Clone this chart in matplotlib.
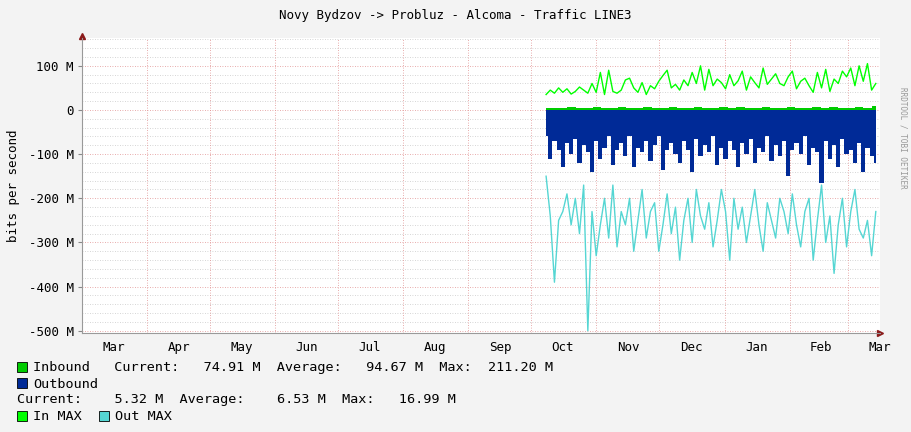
import numpy as np
import matplotlib
matplotlib.use("Agg")
import matplotlib.pyplot as plt

title = "Novy Bydzov -> Probluz - Alcoma - Traffic LINE3"
months = ["Mar","Apr","May","Jun","Jul","Aug","Sep","Oct","Nov","Dec","Jan","Feb","Mar"]
month_starts = [0,31,61,92,122,153,184,214,245,275,306,337,365]
start_day, end_day = 221, 378

in_max = [35,45,38,50,40,48,36,42,52,45,38,60,40,85,35,90,42,38,45,68,72,50,40,62,35,55,48,65,78,90,50,58,45,68,55,85,60,100,45,92,55,70,62,48,80,55,66,88,45,75,62,50,95,58,70,82,60,55,75,88,48,65,72,55,40,85,50,92,42,70,60,88,75,95,55,100,65,105,45,60]
out_max = [-150,-240,-390,-250,-230,-190,-260,-200,-280,-170,-500,-230,-330,-260,-200,-290,-170,-310,-230,-260,-200,-320,-250,-180,-290,-230,-210,-320,-260,-190,-280,-220,-340,-250,-200,-300,-180,-240,-270,-210,-310,-250,-180,-230,-340,-200,-270,-220,-300,-240,-180,-260,-320,-210,-250,-290,-200,-230,-280,-190,-260,-310,-230,-200,-340,-250,-170,-300,-240,-370,-260,-200,-310,-230,-180,-270,-290,-250,-330,-230]
outbound = [-60,-110,-70,-90,-130,-75,-100,-65,-120,-80,-95,-140,-70,-110,-85,-60,-125,-90,-75,-105,-60,-130,-85,-95,-70,-115,-80,-60,-135,-90,-75,-100,-120,-70,-90,-140,-65,-105,-80,-95,-60,-125,-85,-110,-70,-90,-130,-75,-100,-65,-120,-85,-95,-60,-115,-80,-105,-70,-150,-90,-75,-100,-60,-125,-85,-95,-165,-70,-110,-80,-130,-65,-100,-90,-120,-75,-140,-85,-105,-120]
inbound = [4,5,5,6,4,5,6,5,4,6,5,5,7,5,4,6,5,5,6,4,5,6,5,7,4,5,6,5,5,6,4,5,7,5,6,5,4,6,5,8]

fig = plt.figure(figsize=(9.11,4.32), dpi=100, facecolor="#f3f3f3")
ax = fig.add_axes([82/911, 99/432, 798/911, 295/432])
ax.set_facecolor("white")
ax.set_xlim(0, 378)
ax.set_ylim(-505e6, 163e6)

x80 = np.linspace(start_day, end_day, len(outbound))
x40 = np.linspace(start_day, end_day, len(inbound))
ax.fill_between(x80, 0, np.array(outbound)*1e6, step="mid", color="#002a97", lw=0, zorder=3)
ax.fill_between(x40, 0, np.array(inbound)*1e6, step="mid", color="#00cc00", lw=0, zorder=3)
ax.plot(np.linspace(start_day, end_day, len(in_max)), np.array(in_max)*1e6, color="#00ff00", lw=1, zorder=4)
ax.plot(np.linspace(start_day, end_day, len(out_max)), np.array(out_max)*1e6, color="#55d6d3", lw=1, zorder=4)

mono = "DejaVu Sans Mono"
for y in np.arange(-500e6, 161e6, 20e6):
    major = abs(y % 100e6) < 1 or abs(y % 100e6 - 100e6) < 1
    ax.axhline(y, color="#e09090" if major else "#c8c8c8", lw=0.6, ls=(0,(1,2)), zorder=1)
for d in month_starts[1:]:
    ax.axvline(d, color="#e09090", lw=0.6, ls=(0,(1,2)), zorder=1)

yt = [100e6,0,-100e6,-200e6,-300e6,-400e6,-500e6]
ax.set_yticks(yt)
ax.set_yticklabels(["100 M","0","-100 M","-200 M","-300 M","-400 M","-500 M"], family=mono, fontsize=9)
mids = [s + 15 for s in month_starts]
ax.set_xticks(mids)
ax.set_xticklabels(months, family=mono, fontsize=9)
ax.tick_params(axis="x", length=0, pad=6)
ax.tick_params(axis="y", length=3, color="#888888", pad=3)
for s in ["top","right"]:
    ax.spines[s].set_visible(False)
ax.spines["left"].set_color("#999999")
ax.spines["bottom"].set_color("#999999")
ax.plot([0],[168e6], marker="^", color="#8b1a1a", ms=4, clip_on=False)
ax.plot([380],[-505e6], marker=">", color="#8b1a1a", ms=4, clip_on=False)
ax.set_ylabel("bits per second", family=mono, fontsize=9, labelpad=6)

fig.text(0.5, 1-16/432, title, ha="center", va="center", family=mono, fontsize=9)
fig.text(903/911, 0.5+0.18, "RRDTOOL / TOBI OETIKER", rotation=270, ha="center", va="center", family=mono, fontsize=5.5, color="#999999")

def box(px, py, c):
    fig.patches.append(plt.Rectangle((px/911, 1-(py+5)/432), 10/911, 10/432, transform=fig.transFigure, facecolor=c, edgecolor="black", lw=0.6))
def t(px, py, s):
    fig.text(px/911, 1-py/432, s, family=mono, fontsize=9.7, va="center")
box(17, 367, "#00cc00"); t(33, 368, "Inbound   Current:   74.91 M  Average:   94.67 M  Max:  211.20 M")
box(17, 383, "#002a97"); t(33, 384, "Outbound")
t(17, 400, "Current:    5.32 M  Average:    6.53 M  Max:   16.99 M")
box(17, 416, "#00ff00"); t(33, 417, "In MAX")
box(99, 416, "#55d6d3"); t(115, 417, "Out MAX")

fig.savefig("out.png", dpi=100, facecolor=fig.get_facecolor())
